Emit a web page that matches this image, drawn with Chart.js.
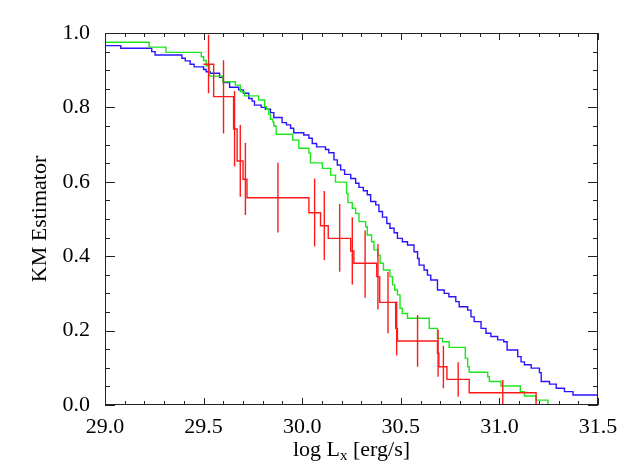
<!DOCTYPE html>
<html>
<head>
<meta charset="utf-8">
<script src="https://cdn.jsdelivr.net/npm/chart.js@4.4.0/dist/chart.umd.min.js"></script>
<style>
html, body { margin: 0; padding: 0; background: #fff; }
</style>
</head>
<body>
<canvas id="km" width="629" height="472"></canvas>
<script>
// KM curves (log Lx, KM estimate at the step)
const blueX = [29.000, 29.080, 29.237, 29.254, 29.390, 29.407, 29.432, 29.452, 29.500, 29.513, 29.534, 29.581, 29.600, 29.632, 29.678, 29.702, 29.729, 29.746, 29.758, 29.792, 29.813, 29.839, 29.856, 29.898, 29.920, 29.941, 29.957, 30.008, 30.034, 30.051, 30.073, 30.118, 30.135, 30.161, 30.178, 30.195, 30.215, 30.246, 30.271, 30.288, 30.310, 30.330, 30.347, 30.373, 30.389, 30.407, 30.429, 30.445, 30.466, 30.483, 30.508, 30.534, 30.567, 30.585, 30.593, 30.618, 30.635, 30.652, 30.686, 30.720, 30.744, 30.779, 30.796, 30.839, 30.856, 30.872, 30.907, 30.932, 30.957, 30.991, 31.022, 31.039, 31.093, 31.110, 31.127, 31.161, 31.203, 31.212, 31.254, 31.288, 31.330, 31.373, 31.500]
const blueY = [0.966, 0.959, 0.950, 0.941, 0.932, 0.925, 0.916, 0.909, 0.902, 0.896, 0.892, 0.881, 0.867, 0.854, 0.847, 0.838, 0.824, 0.817, 0.806, 0.800, 0.795, 0.786, 0.773, 0.759, 0.753, 0.744, 0.732, 0.726, 0.717, 0.703, 0.694, 0.687, 0.678, 0.659, 0.645, 0.632, 0.620, 0.609, 0.596, 0.585, 0.576, 0.565, 0.547, 0.538, 0.520, 0.505, 0.488, 0.475, 0.463, 0.448, 0.439, 0.430, 0.412, 0.394, 0.376, 0.363, 0.349, 0.336, 0.309, 0.300, 0.291, 0.278, 0.264, 0.255, 0.237, 0.224, 0.206, 0.193, 0.184, 0.175, 0.170, 0.148, 0.130, 0.116, 0.108, 0.099, 0.087, 0.063, 0.056, 0.045, 0.036, 0.027, 0.027]

const greenX = [29.000, 29.224, 29.309, 29.488, 29.500, 29.513, 29.530, 29.598, 29.661, 29.686, 29.707, 29.779, 29.810, 29.819, 29.830, 29.839, 29.851, 29.856, 29.868, 29.952, 29.983, 30.034, 30.042, 30.102, 30.144, 30.169, 30.225, 30.232, 30.254, 30.271, 30.288, 30.322, 30.330, 30.352, 30.364, 30.384, 30.395, 30.412, 30.445, 30.458, 30.469, 30.483, 30.496, 30.508, 30.534, 30.644, 30.686, 30.712, 30.745, 30.827, 30.839, 30.847, 30.941, 30.949, 31.008, 31.106, 31.127, 31.186, 31.246]
const greenY = [0.975, 0.962, 0.948, 0.936, 0.926, 0.912, 0.884, 0.869, 0.860, 0.842, 0.831, 0.820, 0.802, 0.795, 0.782, 0.768, 0.761, 0.750, 0.728, 0.712, 0.690, 0.677, 0.651, 0.636, 0.618, 0.599, 0.569, 0.544, 0.529, 0.515, 0.493, 0.479, 0.457, 0.439, 0.417, 0.403, 0.381, 0.363, 0.345, 0.323, 0.309, 0.296, 0.260, 0.246, 0.233, 0.206, 0.179, 0.170, 0.155, 0.126, 0.103, 0.088, 0.076, 0.063, 0.051, 0.036, 0.024, 0.013, 0.000]

const redX = [29.500, 29.551, 29.652, 29.670, 29.700, 29.720, 30.034, 30.093, 30.132, 30.246, 30.262, 30.378, 30.393, 30.474, 30.483, 30.686, 30.693, 30.734, 30.847, 31.186]
const redY = [0.916, 0.829, 0.742, 0.656, 0.607, 0.557, 0.517, 0.482, 0.448, 0.414, 0.381, 0.345, 0.276, 0.206, 0.172, 0.139, 0.103, 0.069, 0.033, 0.000]

// error bars on the red curve
const errX = [29.525, 29.601, 29.657, 29.686, 29.712, 29.877, 30.063, 30.112, 30.190, 30.254, 30.319, 30.384, 30.435, 30.479, 30.585, 30.689, 30.716, 30.791, 31.017]
const errLo = [0.838, 0.730, 0.641, 0.560, 0.511, 0.464, 0.426, 0.390, 0.358, 0.324, 0.288, 0.257, 0.193, 0.133, 0.103, 0.076, 0.045, 0.022, 0.000]
const errHi = [0.995, 0.927, 0.844, 0.753, 0.704, 0.651, 0.609, 0.575, 0.540, 0.505, 0.469, 0.433, 0.358, 0.278, 0.242, 0.202, 0.159, 0.115, 0.067]

const xTicks = [29.0, 29.5, 30.0, 30.5, 31.0, 31.5]
const yTicks = [0.0, 0.2, 0.4, 0.6, 0.8, 1.0]

const serif = "'Liberation Serif', 'Times New Roman', serif"

function toPoints(xs, ys) {
    return xs.map((x, i) => ({x: x, y: ys[i]}))
}

const errPoints = []
errX.forEach((x, i) => {
    errPoints.push({x: x, y: errLo[i]}, {x: x, y: errHi[i]}, {x: x, y: null})
})

// inward ticks on all four sides plus the x title with subscript
const frameTicks = {
    id: 'frameTicks',
    afterDraw(chart) {
        const {ctx, chartArea: a, scales: {x, y}} = chart
        ctx.save()
        ctx.strokeStyle = '#222'
        ctx.lineWidth = 1
        ctx.strokeRect(a.left + 0.5, a.top + 0.5, a.right - a.left - 1, a.bottom - a.top - 1)
        ctx.beginPath()
        const xStep = (xTicks[1] - xTicks[0]) / 5
        for (let i = 0; i <= (xTicks.length - 1) * 5; i++) {
            const px = Math.round(x.getPixelForValue(xTicks[0] + i * xStep)) + 0.5
            const len = i % 5 === 0 ? 7 : 4
            ctx.moveTo(px, a.bottom); ctx.lineTo(px, a.bottom - len)
            ctx.moveTo(px, a.top); ctx.lineTo(px, a.top + len)
        }
        const yStep = (yTicks[1] - yTicks[0]) / 4
        for (let i = 0; i <= (yTicks.length - 1) * 4; i++) {
            const py = Math.round(y.getPixelForValue(yTicks[0] + i * yStep)) + 0.5
            const len = i % 4 === 0 ? 10 : 5
            ctx.moveTo(a.left, py); ctx.lineTo(a.left + len, py)
            ctx.moveTo(a.right, py); ctx.lineTo(a.right - len, py)
        }
        ctx.stroke()

        // log L_x [erg/s]
        ctx.fillStyle = '#000'
        ctx.textBaseline = 'alphabetic'
        ctx.textAlign = 'left'
        const big = '22px ' + serif, small = '15px ' + serif
        ctx.font = big
        const w1 = ctx.measureText('log L').width
        const w3 = ctx.measureText(' [erg/s]').width
        ctx.font = small
        const w2 = ctx.measureText('x').width
        let tx = (a.left + a.right) / 2 - (w1 + w2 + w3) / 2
        const base = 456
        ctx.font = big
        ctx.fillText('log L', tx, base)
        tx += w1
        ctx.font = small
        ctx.fillText('x', tx, base + 4)
        tx += w2
        ctx.font = big
        ctx.fillText(' [erg/s]', tx, base)
        ctx.restore()
    }
}

const ctx = document.getElementById('km')

new Chart(ctx, {
    type: 'line',
    data: {
        datasets: [
            {
                label: 'red',
                data: toPoints(redX, redY),
                borderColor: '#ff1a1a',
                borderWidth: 1.4,
                stepped: true,
                pointRadius: 0,
                fill: false
            },
            {
                label: 'red errors',
                data: errPoints,
                borderColor: '#ff1a1a',
                borderWidth: 1.4,
                pointRadius: 0,
                spanGaps: false,
                fill: false
            },
            {
                label: 'green',
                data: toPoints(greenX, greenY),
                borderColor: '#1ee61e',
                borderWidth: 1.4,
                stepped: true,
                pointRadius: 0,
                fill: false
            },
            {
                label: 'blue',
                data: toPoints(blueX, blueY),
                borderColor: '#2a14ff',
                borderWidth: 1.4,
                stepped: true,
                pointRadius: 0,
                fill: false
            }
        ]
    },
    options: {
        responsive: false,
        animation: false,
        layout: { padding: { left: 0, right: 31, top: 33, bottom: 0 } },
        plugins: { legend: { display: false }, tooltip: { enabled: false } },
        scales: {
            x: {
                type: 'linear',
                min: 29,
                max: 31.5,
                grid: { display: false },
                border: { display: false },
                afterBuildTicks: (scale) => { scale.ticks = xTicks.map(v => ({value: v})) },
                afterFit: (scale) => { scale.height = 67 },
                ticks: {
                    padding: 1,
                    color: '#000',
                    font: { family: serif, size: 22 },
                    maxRotation: 0,
                    callback: (v) => v.toFixed(1)
                }
            },
            y: {
                type: 'linear',
                min: 0,
                max: 1,
                grid: { display: false },
                border: { display: false },
                afterBuildTicks: (scale) => { scale.ticks = yTicks.map(v => ({value: v})) },
                afterFit: (scale) => { scale.width = 105 },
                ticks: {
                    padding: 7,
                    color: '#000',
                    font: { family: serif, size: 22 },
                    callback: (v) => v.toFixed(1)
                },
                title: {
                    display: true,
                    text: 'KM Estimator',
                    color: '#000',
                    font: { family: serif, size: 22 },
                    padding: { top: 27, bottom: 0 }
                }
            }
        }
    },
    plugins: [frameTicks]
})
</script>
</body>
</html>
